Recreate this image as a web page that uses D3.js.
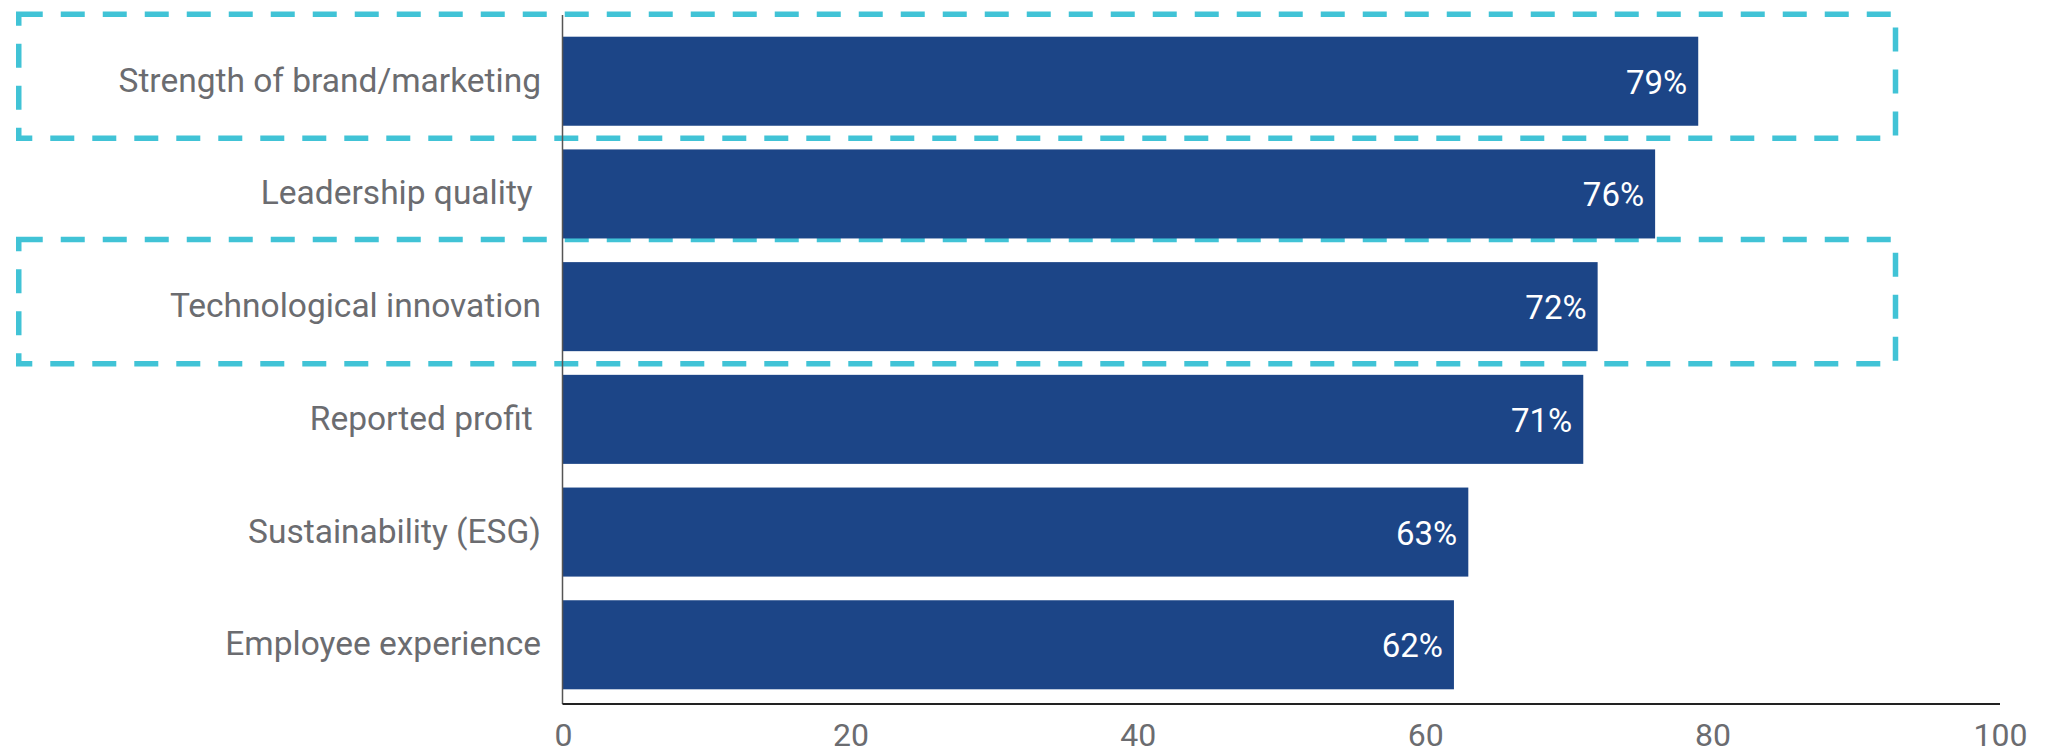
<!DOCTYPE html>
<html>
<head>
<meta charset="utf-8">
<script src="https://cdn.jsdelivr.net/npm/d3@7"></script>
<style>
  html, body { margin: 0; padding: 0; background: #ffffff; }
  svg { display: block; }
  .cat-label { white-space: pre; }
</style>
</head>
<body>
<svg id="chart" width="2057" height="750"></svg>
<script>
// Survey factors and share of respondents (%)
const categories = [
  "Strength of brand/marketing",
  "Leadership quality ",
  "Technological innovation",
  "Reported profit ",
  "Sustainability (ESG)",
  "Employee experience"
];
const values = [79, 76, 72, 71, 63, 62];
const xTicks = [0, 20, 40, 60, 80, 100];
const highlighted = ["Strength of brand/marketing", "Technological innovation"];

const svg = d3.select("#chart");

const axisLeftX = 562.5;
const axisTopY = 15;
const baselineY = 704;

const x = d3.scaleLinear().domain([0, 100]).range([563, 2000]);
const y = d3.scaleBand().domain(categories).range([36.7, 689.3]).paddingInner(0.21);

// Highlight frames behind everything else
const boxLeft = 18.75, boxRight = 1895.5;
svg.append("g")
  .selectAll("rect")
  .data(highlighted)
  .join("rect")
  .attr("x", boxLeft)
  .attr("y", d => y(d) - 22.5)
  .attr("width", boxRight - boxLeft)
  .attr("height", d => y.bandwidth() + 35)
  .attr("fill", "none")
  .attr("stroke", "#41c3d6")
  .attr("stroke-width", 5.5)
  .attr("stroke-dasharray", "24 18");

// Bars
svg.append("g")
  .selectAll("rect")
  .data(categories)
  .join("rect")
  .attr("x", x(0))
  .attr("y", d => y(d))
  .attr("width", (d, i) => x(values[i]) - x(0))
  .attr("height", y.bandwidth())
  .attr("fill", "#1c4587");

// Value labels inside bar ends
svg.append("g")
  .selectAll("text")
  .data(categories)
  .join("text")
  .attr("x", (d, i) => x(values[i]) - 11)
  .attr("y", d => y(d) + y.bandwidth() / 2 + 12.5)
  .attr("text-anchor", "end")
  .attr("fill", "#ffffff")
  .attr("font-family", "Roboto, sans-serif")
  .attr("font-size", 33)
  .text((d, i) => values[i] + "%");

// Category labels
svg.append("g")
  .selectAll("text")
  .data(categories)
  .join("text")
  .attr("class", "cat-label")
  .attr("x", 541)
  .attr("y", d => y(d) + y.bandwidth() / 2 + 10.5)
  .attr("text-anchor", "end")
  .attr("fill", "#6b6c70")
  .attr("font-family", "Roboto, sans-serif")
  .attr("font-size", 33.5)
  .text(d => d);

// Vertical axis line
svg.append("line")
  .attr("x1", axisLeftX).attr("x2", axisLeftX)
  .attr("y1", axisTopY).attr("y2", baselineY)
  .attr("stroke", "#555555")
  .attr("stroke-width", 1.5);

// Bottom axis
const xAxis = d3.axisBottom(x)
  .tickValues(xTicks)
  .tickFormat(d3.format("d"))
  .tickSize(0)
  .tickPadding(19);

const gx = svg.append("g")
  .attr("transform", `translate(0,${baselineY})`)
  .call(xAxis);
gx.select(".domain")
  .attr("d", `M${axisLeftX},0H2000`)
  .attr("stroke", "#222222")
  .attr("stroke-width", 2);
gx.selectAll(".tick text")
  .attr("fill", "#6b6c70")
  .attr("font-family", "Roboto, sans-serif")
  .attr("font-size", 32);
</script>
</body>
</html>
